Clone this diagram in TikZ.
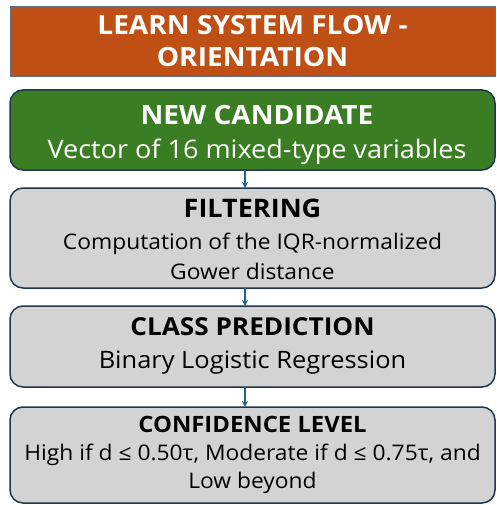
\documentclass[tikz,border=0pt]{standalone}
\usepackage{fontspec}
\setmainfont{Open Sans}[FakeStretch=1.06]
\usetikzlibrary{arrows.meta,positioning}
\definecolor{titleorange}{RGB}{192,79,21}
\definecolor{candgreen}{RGB}{59,125,35}
\definecolor{stepgray}{RGB}{211,211,211}
\definecolor{edgeblue}{RGB}{31,56,77}
\definecolor{titleedge}{RGB}{90,112,132}
\definecolor{flowblue}{RGB}{30,100,140}
% invisible struts to set the room above the first and below the last line
\newcommand{\topgap}[1]{\rule{0pt}{#1}}
\newcommand{\botgap}[1]{\rule[-#1]{0pt}{#1}}

\begin{document}
\begin{tikzpicture}[
      x=1pt,y=-1pt,
      header/.style={draw=titleedge,line width=1pt,fill=titleorange,text=white,align=center,minimum width=485pt,minimum height=70pt,inner sep=0pt,outer sep=0pt,font=\bfseries\fontsize{26.5}{32}\selectfont},
      box/.style={draw=edgeblue,line width=1.5pt,rounded corners=13pt,fill=stepgray,align=center,minimum width=485pt,inner sep=0pt,outer sep=0pt},
      arrow/.style={-{Stealth[length=6pt,width=6pt]},line width=1.2pt,draw=flowblue}
    ]
      \useasboundingbox (0,0) rectangle (496,505);
      \node[header] (head) at (252.5,42) {\topgap{24pt}LEARN SYSTEM FLOW -\\ORIENTATION\botgap{6pt}};
      \node[box,fill=candgreen,text=white,minimum height=80pt,below=13pt of head,font=\fontsize{25.5}{33}\selectfont] (cand)
        {\topgap{30pt}\hspace*{9pt}{\bfseries\fontsize{26.5}{33}\selectfont NEW CANDIDATE}\\\hspace*{9pt}Vector of 16 mixed-type variables\botgap{7pt}};
      \node[box,minimum height=100pt,below=18pt of cand,font=\fontsize{21.5}{29.5}\selectfont] (filt)
        {\topgap{27pt}{\bfseries\fontsize{25.5}{29.5}\selectfont FILTERING}\\[2.5pt]Computation of the IQR-normalized\\Gower distance\botgap{6pt}};
      \node[box,minimum height=81pt,below=18pt of filt,font=\fontsize{24}{33}\selectfont] (pred)
        {\topgap{20pt}{\bfseries\fontsize{24.7}{33}\selectfont CLASS PREDICTION}\\Binary Logistic Regression\botgap{10pt}};
      \node[box,minimum height=96pt,below=20pt of pred,font=\fontsize{21.5}{28}\selectfont] (conf)
        {\topgap{20pt}{\bfseries\fontsize{22.5}{28}\selectfont CONFIDENCE LEVEL}\\High if d ≤ 0.50τ, Moderate if d ≤ 0.75τ, and\\Low beyond\botgap{10pt}};
      \coordinate (axis) at (245,0);
      \draw[arrow] (cand.south -| axis) -- (filt.north -| axis);
      \draw[arrow] (filt.south -| axis) -- (pred.north -| axis);
      \draw[arrow] (pred.south -| axis) -- (conf.north -| axis);
    \end{tikzpicture}
\end{document}
